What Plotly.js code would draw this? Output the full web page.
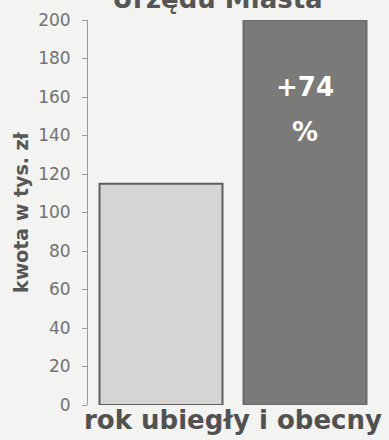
<!DOCTYPE html>
<html>
<head>
<meta charset="utf-8">
<script src="https://cdn.plot.ly/plotly-3.0.1.min.js"></script>
<style>
  html, body { margin: 0; padding: 0; background: #f3f3f2; }
  #chart { width: 389px; height: 440px; }
</style>
</head>
<body>
<div id="chart"></div>
<script>
// Budget of the city office: last year vs this year (thousand PLN)
const categories = ['rok ubiegły', 'rok obecny'];
const amounts = [115, 200];
const barFills = ['#d5d5d4', '#7a7a79'];
const barEdges = ['#5e5e5e', '#6a6a69'];
const yTickStep = 20;

const growthPct = Math.round((amounts[1] / amounts[0] - 1) * 100);

const FONT = 'DejaVu Sans, sans-serif';

const trace = {
  type: 'bar',
  x: categories,
  y: amounts,
  width: 0.854,
  marker: {
    color: barFills,
    line: { color: barEdges, width: 2 }
  },
  hoverinfo: 'skip'
};

const layout = {
  width: 389,
  height: 440,
  margin: { l: 88, r: 12, t: 20, b: 35 },
  paper_bgcolor: '#f3f3f2',
  plot_bgcolor: 'rgba(0,0,0,0)',
  showlegend: false,
  xaxis: {
    type: 'category',
    categoryarray: categories,
    range: [-0.507, 1.5],
    showticklabels: false,
    ticks: '',
    showline: false,
    showgrid: false,
    zeroline: false,
    fixedrange: true
  },
  yaxis: {
    range: [0, 200],
    dtick: yTickStep,
    tick0: 0,
    ticks: 'outside',
    ticklen: 5,
    tickwidth: 1,
    tickcolor: '#9a9a9a',
    showline: true,
    linecolor: '#9a9a9a',
    linewidth: 1,
    showgrid: false,
    zeroline: false,
    ticklabelstandoff: 8,
    tickfont: { family: FONT, size: 17, color: '#727272' },
    fixedrange: true
  },
  annotations: [
    {
      text: 'Urzędu Miasta',
      xref: 'paper', yref: 'paper',
      x: 0.5, y: 1, xanchor: 'center', yanchor: 'bottom',
      xshift: -15, yshift: 4,
      showarrow: false,
      font: { family: FONT, size: 26, weight: 'bold', color: '#555555' }
    },
    {
      text: 'kwota w tys. zł',
      xref: 'paper', yref: 'paper',
      x: 0, y: 0.5, xanchor: 'center', yanchor: 'middle',
      xshift: -67.5, textangle: -90,
      showarrow: false,
      font: { family: FONT, size: 19, weight: 'bold', color: '#575757' }
    },
    {
      text: 'rok ubiegły i obecny',
      xref: 'paper', yref: 'paper',
      x: 0.5, y: 0, xanchor: 'center', yanchor: 'top',
      yshift: 2,
      showarrow: false,
      font: { family: FONT, size: 26, weight: 'bold', color: '#515151' }
    },
    {
      text: '+' + growthPct,
      xref: 'x', yref: 'y',
      x: categories[1], y: 165, xanchor: 'center', yanchor: 'middle',
      showarrow: false,
      font: { family: FONT, size: 26, weight: 'bold', color: '#ffffff' }
    },
    {
      text: '%',
      xref: 'x', yref: 'y',
      x: categories[1], y: 142, xanchor: 'center', yanchor: 'middle',
      showarrow: false,
      font: { family: FONT, size: 26, weight: 'bold', color: '#ffffff' }
    }
  ]
};

Plotly.newPlot('chart', [trace], layout, { displayModeBar: false, staticPlot: true });
</script>
</body>
</html>
